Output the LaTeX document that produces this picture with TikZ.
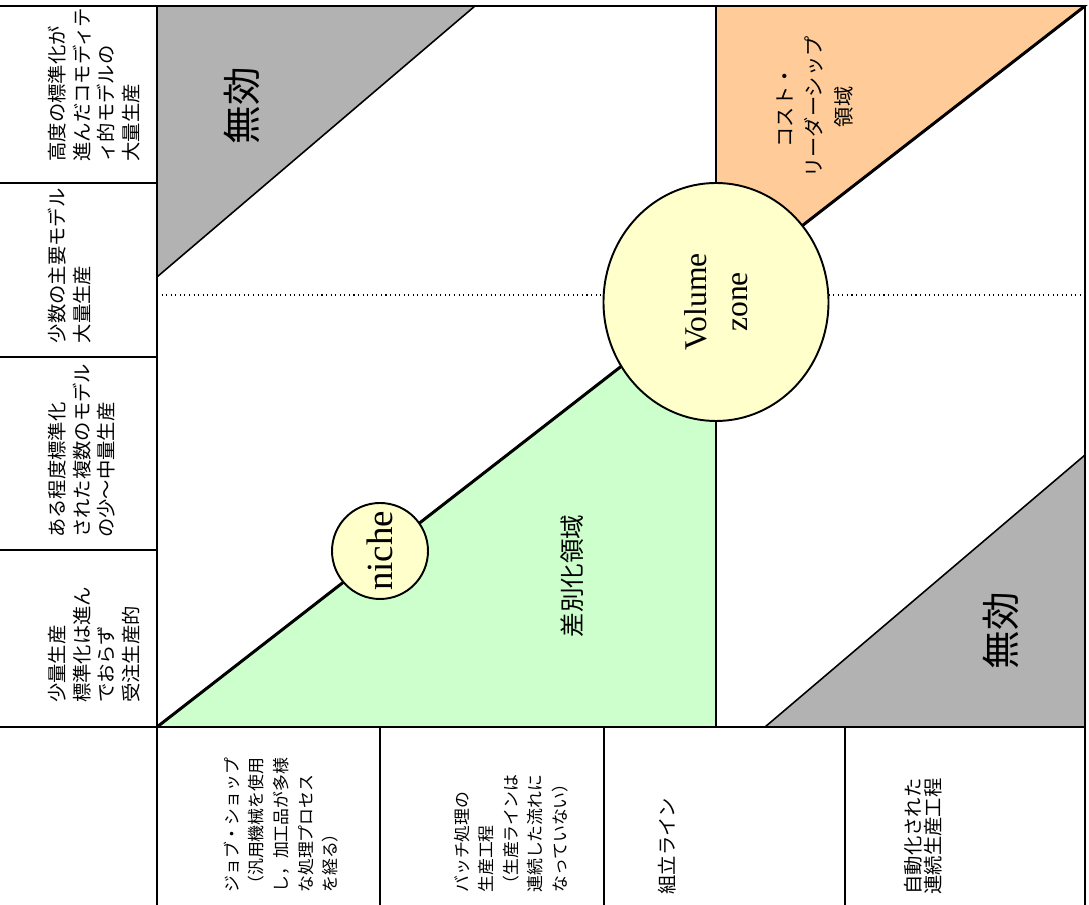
\documentclass[tikz,border=0pt]{standalone}
\usepackage{fontspec}
\setmainfont{Liberation Serif}
\newfontfamily\jpfont{Noto Sans CJK JP}
\usepackage{tikz}
\definecolor{voidgray}{RGB}{178,178,178}
\definecolor{costorange}{RGB}{255,204,153}
\definecolor{diffgreen}{RGB}{204,255,204}
\definecolor{zoneyellow}{RGB}{255,255,204}
\tikzset{
  grid/.style={line width=1.1pt},
  vtext/.style={rotate=90,inner sep=0pt,align=left},
  rowtext/.style={vtext,anchor=north,font=\jpfont\fontsize{11}{14}\selectfont},
  coltext/.style={vtext,anchor=west,font=\jpfont\fontsize{9.6}{14}\selectfont},
  zone/.style={ellipse,draw,line width=1.1pt,fill=zoneyellow,inner sep=0pt}
}
\usetikzlibrary{shapes.geometric}

\begin{document}
\begin{tikzpicture}
    \useasboundingbox (0,0) rectangle (21.78,18.1);
    % regions
    \fill[voidgray] (3.14,17.98) -- (9.5,17.98) -- (3.14,12.56) -- cycle;
    \draw[line width=0.9pt] (9.5,17.98) -- (3.14,12.56);
    \fill[voidgray] (15.3,3.56) -- (21.7,3.56) -- (21.7,9.0) -- cycle;
    \draw[line width=0.9pt] (15.3,3.56) -- (21.7,9.0);
    \coordinate (mid) at (14.32,12.246);
    \draw[grid,fill=diffgreen] (3.14,3.56) -- (mid) -- (14.32,3.56) -- cycle;
    \draw[grid,fill=costorange] (14.32,17.98) -- (21.7,17.98) -- (mid) -- cycle;
    \draw[line width=1.7pt] (3.14,3.56) -- (21.7,17.98);
    \draw[dotted,line width=0.6pt] (3.14,12.2) -- (21.7,12.2);
    % table
    \draw[grid] (0,17.98) -- (21.7,17.98);
    \draw[grid] (0,3.56) -- (21.7,3.56);
    \foreach \y in {14.44,10.96,7.1}
      \draw[grid] (0,\y) -- (3.14,\y);
    \foreach \x in {3.14,7.6,12.08,16.9}
      \draw[grid] (\x,3.56) -- (\x,0);
    \draw[grid] (3.14,17.98) -- (3.14,3.56);
    \draw[grid] (21.7,17.98) -- (21.7,0);
    % circles
    \node[zone,minimum width=4.5cm,minimum height=4.76cm] (vol) at (14.32,12.06) {};
    \node[zone,minimum size=1.92cm] (nic) at (7.6,7.08) {};
    \node[rotate=90,align=center,font=\fontsize{18}{23}\selectfont] (voltext) at (vol) {Volume\\zone};
    \node[rotate=90,font=\fontsize{21}{24}\selectfont] (nictext) at (nic) {niche};
    % labels
    \node[rotate=90,font=\jpfont\fontsize{22}{24}\selectfont] (void1) at (4.84,15.98) {無効};
    \node[rotate=90,font=\jpfont\fontsize{22}{24}\selectfont] (void2) at (20.02,5.48) {無効};
    \node[rotate=90,align=center,font=\jpfont\fontsize{11.5}{17}\selectfont] (cost) at (16.3,15.96) {コスト・\\リーダーシップ\\領域};
    \node[rotate=90,font=\jpfont\fontsize{14}{16}\selectfont] (diff) at (11.44,6.58) {差別化領域};
    % rows
    \node[rowtext] (row1) at (0.96,16.4) {高度の標準化が\\進んだコモディテ\\ィ的モデルの\\大量生産};
    \node[rowtext] (row2) at (0.96,12.78) {少数の主要モデル\\大量生産};
    \node[rowtext] (row3) at (0.96,9.08) {ある程度標準化\\された複数のモデル\\の少～中量生産};
    \node[rowtext] (row4) at (0.96,5.2) {少量生産\\標準化は進ん\\でおらず\\受注生産的};
    % columns
    \node[coltext] (col1) at (5.62,0.24) {ジョブ・ショップ\\（汎用機械を使用\\し，加工品が多様\\な処理プロセス\\を経る）};
    \node[coltext] (col2) at (10.22,0.24) {バッチ処理の\\生産工程\\（生産ラインは\\連続した流れに\\なっていない）};
    \node[coltext,font=\jpfont\fontsize{11}{11.5}\selectfont] (col3) at (13.34,0.2) {組立ライン};
    \node[coltext,font=\jpfont\fontsize{11}{11.5}\selectfont] (col4) at (18.46,0.2) {自動化された\\連続生産工程};
\end{tikzpicture}
\end{document}
